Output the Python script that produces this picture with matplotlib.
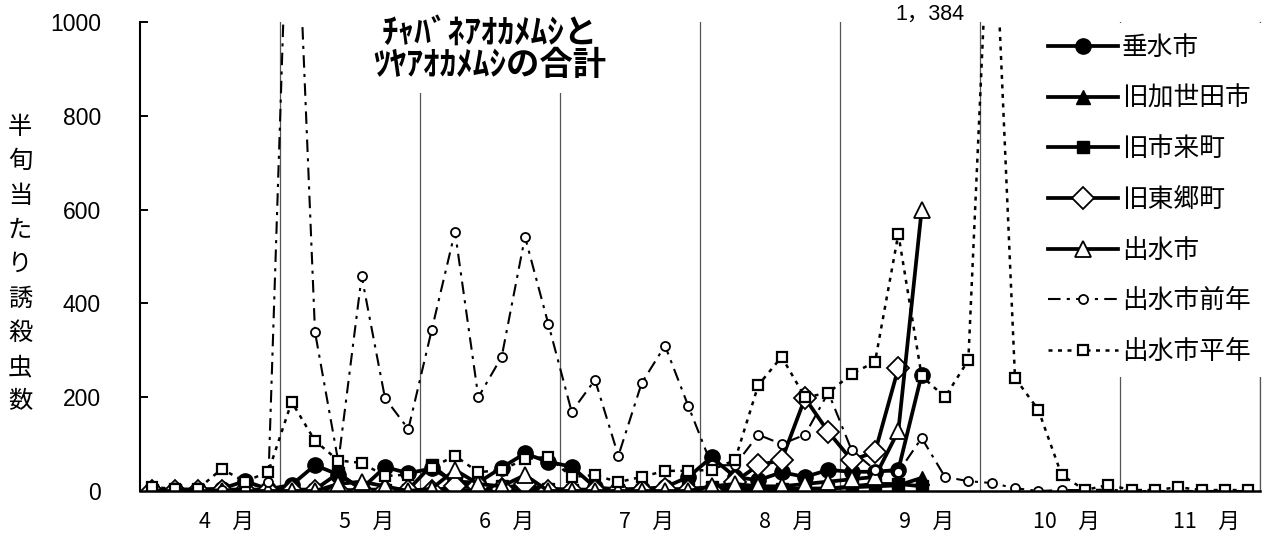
import numpy as np
import matplotlib
matplotlib.use('Agg')
import matplotlib.pyplot as plt

plt.rcParams['font.family'] = ['Noto Sans CJK JP', 'DejaVu Sans']

# 半旬 (6 per month), 4月〜11月
months = ['4', '5', '6', '7', '8', '9', '10', '11']
n_per_month = 6

# 今年の各地点 (9月4半旬まで)
tarumizu = [3, 3, 3, 5, 21, 4, 13, 55, 35, 5, 51, 38, 48, 20, 18, 50, 80, 62,
            52, 8, 3, 5, 8, 30, 72, 30, 23, 40, 30, 45, 41, 41, 45, 248]
kaseda = [2, 2, 2, 2, 2, 2, 2, 2, 2, 2, 2, 2, 2, 2, 2, 2, 2, 2,
          1, 1, 1, 1, 1, 2, 3, 3, 3, 3, 5, 5, 8, 10, 12, 28]
ichiki = [3, 3, 3, 3, 3, 3, 3, 3, 38, 3, 3, 3, 55, 15, 10, 10, 8, 5,
          3, 3, 3, 3, 3, 5, 8, 8, 5, 5, 5, 5, 10, 15, 15, 10]
togo = [0, 0, 0, 0, 0, 0, 0, 0, 0, 0, 0, 0, 0, 10, 10, 5, 15, 0,
        0, 0, 0, 0, 5, 0, 0, 20, 55, 66, 198, 126, 66, 83, 262]
izumi = [0, 0, 0, 0, 0, 0, 0, 0, 15, 20, 10, 0, 5, 45, 15, 10, 34, 0,
         0, 0, 0, 0, 0, 0, 10, 15, 10, 10, 15, 20, 25, 30, 128, 600]

# 出水市 前年・平年
zennen = [3, 3, 3, 3, 5, 20, 1550, 339, 62, 458, 198, 132,
          343, 553, 200, 286, 542, 356, 169, 237, 75, 230, 310, 181,
          55, 55, 120, 100, 120, 210, 87, 45, 40, 113, 30, 21,
          17, 6, 0, 2, 2, 3, 0, 0, 0, 0, 0, 0]
heinen = [8, 5, 5, 47, 20, 41, 190, 107, 65, 60, 32, 35,
          50, 75, 40, 45, 68, 73, 30, 34, 19, 30, 43, 43,
          45, 66, 226, 286, 200, 209, 250, 275, 548, 245, 200, 279,
          1384, 241, 173, 34, 2, 13, 2, 2, 8, 2, 2, 2]

n_total = len(months) * n_per_month

fig = plt.figure(figsize=(12.64, 5.41), dpi=100)
ax = fig.add_axes([140 / 1264, 50 / 541, 1120 / 1264, 469 / 541])

# 月の区切り線
for m in range(1, len(months) + 1):
    ax.axvline(m * n_per_month - 0.5, color='#555555', lw=0.9, zorder=1)

thick = dict(color='black', lw=2.7)
ax.plot(np.arange(len(tarumizu)), tarumizu, marker='o', ms=11, mfc='black',
        mec='black', label='垂水市', **thick)
ax.plot(np.arange(len(kaseda)), kaseda, marker='^', ms=10, mfc='black',
        mec='black', label='旧加世田市', **thick)
ax.plot(np.arange(len(ichiki)), ichiki, marker='s', ms=8.5, mfc='black',
        mec='black', label='旧市来町', **thick)
ax.plot(np.arange(len(togo)), togo, marker='D', ms=11, mfc='white',
        mec='black', mew=1.3, label='旧東郷町', **thick)
ax.plot(np.arange(len(izumi)), izumi, marker='^', ms=12, mfc='white',
        mec='black', mew=1.3, label='出水市', **thick)
ax.plot(np.arange(n_total), zennen, color='black', lw=1.5,
        dashes=(6, 3, 1.5, 3), marker='o', ms=6.5, mfc='white', mec='black',
        mew=1.3, label='出水市前年')
ax.plot(np.arange(n_total), heinen, color='black', lw=1.8,
        dashes=(1.6, 2.2), marker='s', ms=7, mfc='white', mec='black',
        mew=1.6, label='出水市平年')

ax.set_xlim(-0.5, n_total - 0.5)
ax.set_ylim(0, 1000)
ax.set_yticks(np.arange(0, 1001, 200))
ax.set_xticks([i * n_per_month + 3.2 for i in range(len(months))])
ax.set_xticklabels([m + '　月' for m in months], fontsize=15.5)
ax.tick_params(axis='x', length=0, pad=14)
ax.tick_params(axis='y', direction='in', length=6, width=1.4, pad=28,
               labelsize=16.5)
for lab in ax.get_yticklabels():
    lab.set_fontfamily(['Liberation Sans', 'DejaVu Sans'])

ax.spines['top'].set_visible(False)
ax.spines['left'].set_linewidth(1.5)
ax.spines['bottom'].set_linewidth(1.8)
ax.spines['right'].set_linewidth(0.9)
ax.spines['right'].set_color('#555555')

# タイトル
ax.text(0.3125, 1.011, 'ﾁｬﾊﾞﾈｱｵｶﾒﾑｼと\nﾂﾔｱｵｶﾒﾑｼの合計', transform=ax.transAxes,
        ha='center', va='top', fontsize=24, fontweight='bold', linespacing=0.95,
        bbox=dict(facecolor='white', edgecolor='none', pad=8), zorder=5)

ax.text(0.705, 1.017, '1，384', transform=ax.transAxes, ha='center',
        va='center', fontsize=15.5,
        family=['Liberation Sans', 'Noto Sans CJK JP'])

# 縦書きの軸ラベル
ylab = '半旬当たり誘殺虫数'
for k, ch in enumerate(ylab):
    fig.text(20 / 1264, 1 - (127 + k * 34.3) / 541, ch, ha='center',
             va='center', fontsize=17.5)

leg = ax.legend(loc='upper left', bbox_to_anchor=(0.8, 0.997), fontsize=18.5,
                handlelength=2.75, handletextpad=0.15, labelspacing=0.96,
                borderpad=0.45, borderaxespad=0, frameon=True, fancybox=False,
                framealpha=1, edgecolor='none', facecolor='white')
leg.set_zorder(6)

fig.savefig('out.png', dpi=100)
